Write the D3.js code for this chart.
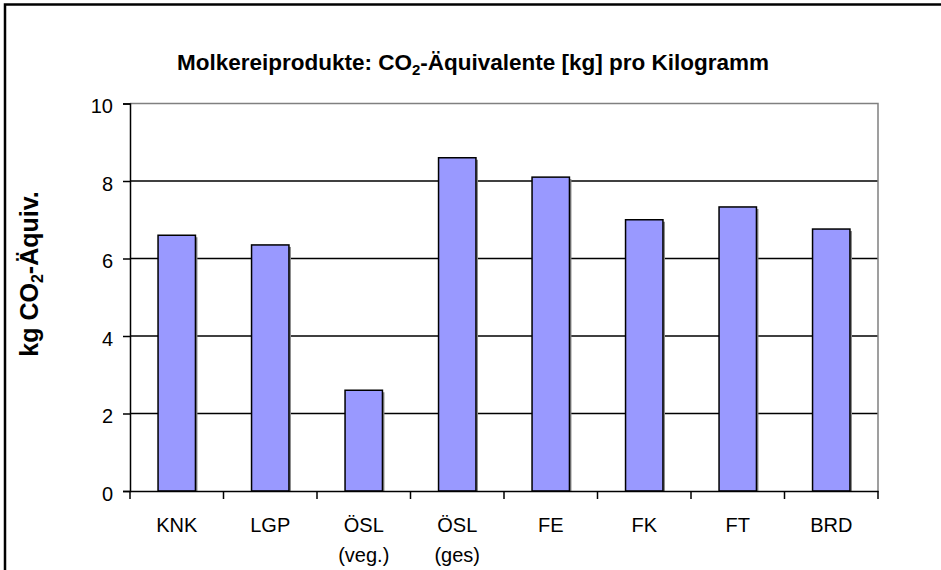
<!DOCTYPE html>
<html><head><meta charset="utf-8">
<script src="https://cdn.jsdelivr.net/npm/d3@7"></script>
<style>body{margin:0;background:#fff}svg{display:block;font-family:"Liberation Sans",Arial,sans-serif}</style>
</head><body><svg width="941" height="570"></svg>
<script>
const categories = [["KNK"],["LGP"],["ÖSL","(veg.)"],["ÖSL","(ges)"],["FE"],["FK"],["FT"],["BRD"]];
const values = [6.6, 6.35, 2.6, 8.6, 8.1, 7.0, 7.33, 6.76];
const yTicks = [0, 2, 4, 6, 8, 10];

const svg = d3.select("svg");
const m = {l:130, r:878, t:103.5, b:491};
// outer frame
svg.append("path").attr("d","M5,570 L5,4.5 L941,4.5").attr("fill","none").attr("stroke","#000").attr("stroke-width",2.5);

const x = d3.scaleBand().domain(d3.range(categories.length)).range([m.l, m.r]).paddingInner(0.6).paddingOuter(0.3);
const xb = d3.scaleBand().domain(d3.range(categories.length)).range([m.l, m.r]);
const y = d3.scaleLinear().domain([0,10]).range([m.b, m.t]);

// gridlines
svg.append("g").selectAll("line").data(yTicks.filter(d=>d>0 && d<10)).join("line")
  .attr("x1",m.l).attr("x2",m.r).attr("y1",d=>y(d)).attr("y2",d=>y(d)).attr("stroke","#000").attr("stroke-width",1.5);
// top/right border gray
svg.append("path").attr("d",`M${m.l},${y(10)} L${m.r},${y(10)} L${m.r},${m.b}`).attr("fill","none").attr("stroke","#808080").attr("stroke-width",1.5);

// shadows
svg.append("g").selectAll("rect").data(values).join("rect")
  .attr("x",(d,i)=>x(i)+2).attr("y",d=>y(d)+2).attr("width",x.bandwidth()).attr("height",d=>m.b-y(d)-2)
  .attr("fill","#888");
// bars
svg.append("g").selectAll("rect").data(values).join("rect")
  .attr("x",(d,i)=>x(i)).attr("y",d=>y(d)).attr("width",x.bandwidth()).attr("height",d=>m.b-y(d))
  .attr("fill","#9999FF").attr("stroke","#000").attr("stroke-width",1.5);

// y axis
const ya = svg.append("g").attr("transform",`translate(${m.l},0)`)
  .call(d3.axisLeft(y).tickValues(yTicks).tickSize(7).tickPadding(10));
ya.select(".domain").attr("stroke","#000").attr("stroke-width",1.5);
ya.selectAll(".tick line").attr("stroke","#000").attr("stroke-width",1.5);
ya.selectAll("text").attr("font-size",20).attr("dy","0.45em").attr("font-family","Liberation Sans, Arial, sans-serif").attr("fill","#000");

// x axis
const xa = svg.append("g").attr("transform",`translate(0,${m.b})`)
  .call(d3.axisBottom(xb).tickSize(0).tickFormat(""));
xa.select(".domain").attr("stroke","#000").attr("stroke-width",1.5);
xa.selectAll(".tick").remove();
svg.append("g").selectAll("line").data(d3.range(categories.length+1)).join("line")
  .attr("x1",i=>m.l+i*xb.step()).attr("x2",i=>m.l+i*xb.step()).attr("y1",m.b).attr("y2",m.b+8)
  .attr("stroke","#000").attr("stroke-width",1.5);
const lab = svg.append("g").selectAll("text").data(categories).join("text")
  .attr("x",(d,i)=>xb(i)+xb.bandwidth()/2).attr("y",532).attr("text-anchor","middle")
  .attr("font-size",20).attr("fill","#000");
lab.each(function(d){
  const t = d3.select(this);
  d.forEach((s,j)=>t.append("tspan").attr("x",t.attr("x")).attr("dy",j?29.5:0).text(s));
});

// title
const title = svg.append("text").attr("x",473).attr("y",69.5).attr("text-anchor","middle")
  .attr("font-size",22.5).attr("font-weight","bold").attr("fill","#000");
title.append("tspan").text("Molkereiprodukte: CO");
title.append("tspan").attr("font-size",15).attr("dy",5).text("2");
title.append("tspan").attr("dy",-5).text("-Äquivalente [kg] pro Kilogramm");

// y label
const yl = svg.append("text").attr("transform",`translate(38,274) rotate(-90)`).attr("text-anchor","middle")
  .attr("font-size",25).attr("font-weight","bold").attr("fill","#000");
yl.append("tspan").text("kg CO");
yl.append("tspan").attr("font-size",16).attr("dy",5).text("2");
yl.append("tspan").attr("dy",-5).text("-Äquiv.");
</script></body></html>
